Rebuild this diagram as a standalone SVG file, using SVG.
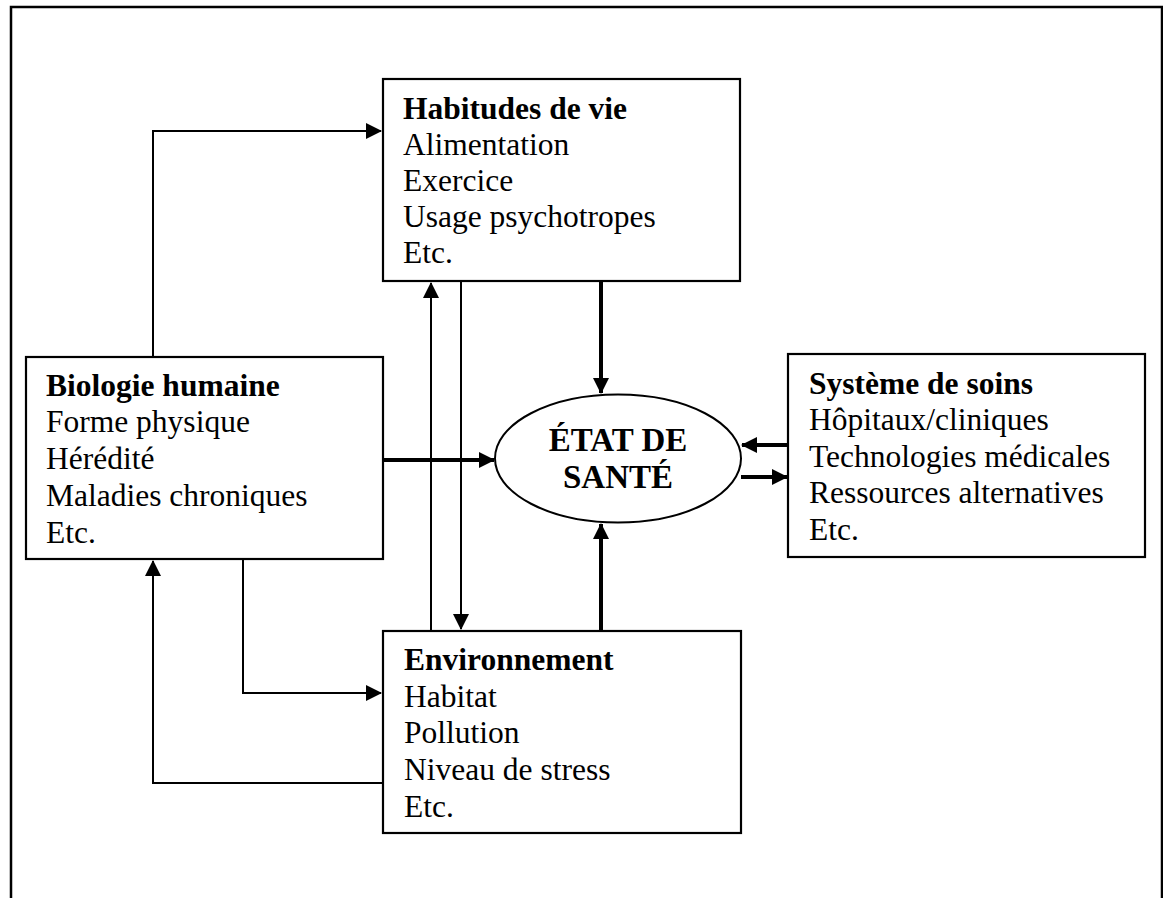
<svg xmlns="http://www.w3.org/2000/svg" width="1163" height="898" viewBox="0 0 1163 898">
<style>
.box{fill:#fff;stroke:#000;stroke-width:2.2}
.t{font-family:"Liberation Serif","Times New Roman",serif;font-size:31.5px;fill:#000}
.b{font-weight:bold}
.e{font-size:33px}
.thin{fill:none;stroke:#000;stroke-width:2;marker-end:url(#ah)}
.thick{fill:none;stroke:#000;stroke-width:4;marker-end:url(#ah)}
</style>
<defs>
<marker id="ah" markerUnits="userSpaceOnUse" markerWidth="16" markerHeight="16" viewBox="0 0 16 16" refX="15" refY="8" orient="auto">
<path d="M0,0 L16,8 L0,16 Z" fill="#000"/>
</marker>
</defs>
<rect width="1163" height="898" fill="#fff"/>
<path d="M11,898 V7 H1162 V898" fill="none" stroke="#000" stroke-width="2.5"/>

<g id="connectors">
<path class="thin" d="M153,357 V131 H381"/>
<path class="thin" d="M243,559 V693 H381"/>
<path class="thin" d="M383,783 H153 V561"/>
<path class="thin" d="M431,631 V283"/>
<path class="thin" d="M461,281 V629"/>
<path class="thick" d="M601,281 V393"/>
<path class="thick" d="M383,460 H494"/>
<path class="thick" d="M601,631 V524"/>
<path class="thick" d="M788,445 H742"/>
<path class="thick" d="M741,477 H787"/>
</g>

<g id="habitudes">
<rect class="box" x="383" y="79" width="357" height="202"/>
<text class="t b" x="403" y="119">Habitudes de vie</text>
<text class="t" x="403" y="155">Alimentation</text>
<text class="t" x="403" y="191">Exercice</text>
<text class="t" x="403" y="227">Usage psychotropes</text>
<text class="t" x="403" y="263">Etc.</text>
</g>

<g id="biologie">
<rect class="box" x="26" y="357" width="357" height="202"/>
<text class="t b" x="46" y="396">Biologie humaine</text>
<text class="t" x="46" y="432">Forme physique</text>
<text class="t" x="46" y="469">Hérédité</text>
<text class="t" x="46" y="506">Maladies chroniques</text>
<text class="t" x="46" y="543">Etc.</text>
</g>

<g id="etat">
<ellipse cx="618" cy="458.5" rx="123" ry="64" fill="#fff" stroke="#000" stroke-width="2"/>
<text class="t b e" x="618" y="451" text-anchor="middle">ÉTAT DE</text>
<text class="t b e" x="618" y="488" text-anchor="middle">SANTÉ</text>
</g>

<g id="systeme">
<rect class="box" x="788" y="354" width="357" height="203"/>
<text class="t b" x="809" y="394">Système de soins</text>
<text class="t" x="809" y="430">Hôpitaux/cliniques</text>
<text class="t" x="809" y="467">Technologies médicales</text>
<text class="t" x="809" y="503">Ressources alternatives</text>
<text class="t" x="809" y="540">Etc.</text>
</g>

<g id="environnement">
<rect class="box" x="383" y="631" width="358" height="202"/>
<text class="t b" x="404" y="670">Environnement</text>
<text class="t" x="404" y="707">Habitat</text>
<text class="t" x="404" y="743">Pollution</text>
<text class="t" x="404" y="780">Niveau de stress</text>
<text class="t" x="404" y="817">Etc.</text>
</g>
</svg>
